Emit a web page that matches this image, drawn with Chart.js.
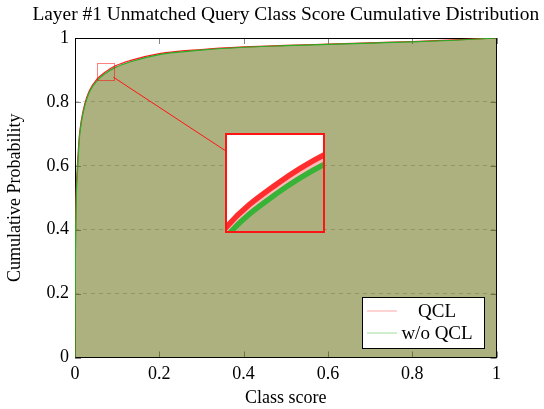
<!DOCTYPE html>
<html><head><meta charset="utf-8">
<script src="https://cdn.jsdelivr.net/npm/chart.js@4.4.1/dist/chart.umd.min.js"></script>
<style>
html,body{margin:0;padding:0;background:#fff;}
#wrap{position:relative;width:544px;height:409px;overflow:hidden;}
#main{position:absolute;left:0;top:0;}
#inset{position:absolute;left:225px;top:133px;}
</style></head>
<body>
<div id="wrap"><canvas id="main" width="544" height="409"></canvas><canvas id="inset" width="100" height="100"></canvas></div>
<script>
// ---- data ----
const classScores = [0, 0.001, 0.0025, 0.005, 0.007, 0.010, 0.015, 0.023, 0.034, 0.052, 0.072, 0.096, 0.13, 0.2, 0.3, 0.4, 0.5, 0.6, 0.7, 0.8, 0.9, 1.0];
const qclCdf   = [0, 0.33, 0.50, 0.585, 0.63, 0.69, 0.742, 0.793, 0.835, 0.871, 0.894, 0.913, 0.929, 0.951, 0.964, 0.972, 0.977, 0.981, 0.985, 0.989, 0.994, 1.0];
const noQclCdf = [0, 0.30, 0.47, 0.56, 0.61, 0.68, 0.735, 0.787, 0.830, 0.866, 0.889, 0.908, 0.925, 0.948, 0.962, 0.971, 0.976, 0.980, 0.984, 0.988, 0.993, 1.0];
const seriesNames = ['QCL', 'w/o QCL'];
const xTickLabels = ['0', '0.2', '0.4', '0.6', '0.8', '1'];
const yTickLabels = ['0', '0.2', '0.4', '0.6', '0.8', '1'];
const chartTitle = 'Layer #1 Unmatched Query Class Score Cumulative Distribution';
const spyX = [0.0515, 0.091];
const spyY = [0.868, 0.921];
const insetCenter = [0.475, 0.545];

// ---- styles ----
const FONT = "'Liberation Serif', 'Times New Roman', serif";
const lineColors = ['rgb(255,25,25)', 'rgb(40,175,40)'];
const insetLineColors = ['rgb(255,45,45)', 'rgb(55,180,55)'];
const fillColors = ['rgba(255,0,0,0.27)', 'rgba(0,156,0,0.32)'];
const legendColors = ['rgba(255,140,140,0.5)', 'rgba(110,205,110,0.45)'];
const INSET_SIZE = 100;

const toPts = ys => classScores.map((x, i) => ({x: x, y: ys[i]}));
function makeDatasets(lw, colors) {
  return [qclCdf, noQclCdf].map((ys, i) => ({
    label: seriesNames[i],
    data: toPts(ys),
    borderColor: colors[i],
    backgroundColor: fillColors[i],
    fill: 'origin',
    borderWidth: lw,
    pointRadius: 0,
    cubicInterpolationMode: 'monotone',
    order: 1 - i
  }));
}

const framePlugin = {
  id: 'frame',
  beforeDatasetsDraw(chart) {
    const {ctx, chartArea: a, scales: {x, y}} = chart;
    ctx.save();
    ctx.strokeStyle = 'rgba(120,120,120,0.9)';
    ctx.lineWidth = 1;
    ctx.beginPath();
    x.ticks.forEach(t => {
      const px = Math.round(x.getPixelForValue(t.value)) + 0.5;
      ctx.moveTo(px, a.top); ctx.lineTo(px, a.top + 6);
      ctx.moveTo(px, a.bottom); ctx.lineTo(px, a.bottom - 6);
    });
    y.ticks.forEach(t => {
      const py = Math.round(y.getPixelForValue(t.value)) + 0.5;
      ctx.moveTo(a.left, py); ctx.lineTo(a.left + 6, py);
      ctx.moveTo(a.right, py); ctx.lineTo(a.right - 6, py);
    });
    ctx.stroke();
    ctx.strokeStyle = '#000';
    const l = Math.round(a.left) + 0.5, r = Math.round(a.right) - 0.5;
    const t = Math.round(a.top) + 0.5, b = Math.round(a.bottom) - 0.5;
    ctx.strokeRect(l, t, r - l, b - t);
    ctx.restore();
  },
  afterDatasetsDraw(chart) {
    const {ctx, scales: {x, y}} = chart;
    const bx0 = x.getPixelForValue(spyX[0]), bx1 = x.getPixelForValue(spyX[1]);
    const by0 = y.getPixelForValue(spyY[1]), by1 = y.getPixelForValue(spyY[0]);
    ctx.save();
    ctx.strokeStyle = 'rgba(255,0,0,0.5)';
    ctx.lineWidth = 1;
    ctx.strokeRect(Math.round(bx0) + 0.5, Math.round(by0) + 0.5, Math.round(bx1 - bx0), Math.round(by1 - by0));
    // connector
    const c1x = (bx0 + bx1) / 2, c1y = (by0 + by1) / 2;
    const c2x = x.getPixelForValue(insetCenter[0]), c2y = y.getPixelForValue(insetCenter[1]);
    const dx = c2x - c1x, dy = c2y - c1y;
    const t1 = Math.min(((bx1 - bx0) / 2) / Math.abs(dx), ((by1 - by0) / 2) / Math.abs(dy));
    const t2 = Math.min((INSET_SIZE / 2) / Math.abs(dx), (INSET_SIZE / 2) / Math.abs(dy));
    ctx.strokeStyle = 'rgb(255,20,20)';
    ctx.beginPath();
    ctx.moveTo(c1x + dx * t1, c1y + dy * t1);
    ctx.lineTo(c2x - dx * t2, c2y - dy * t2);
    ctx.stroke();
    ctx.restore();
  },
  afterDraw(chart) {
    const {ctx, chartArea: a} = chart;
    ctx.save();
    // title, centred over the plot area
    ctx.font = '19.4px ' + FONT;
    ctx.fillStyle = '#000';
    ctx.textAlign = 'center';
    ctx.textBaseline = 'middle';
    ctx.fillText(chartTitle, (a.left + a.right) / 2, 15);
    // legend
    const w = 122, h = 51;
    const bx = Math.round(a.right - 13 - w), by = Math.round(a.bottom - 10 - h);
    ctx.fillStyle = '#fff';
    ctx.fillRect(bx, by, w, h);
    ctx.strokeStyle = '#000';
    ctx.lineWidth = 1;
    ctx.strokeRect(bx + 0.5, by + 0.5, w, h);
    ctx.font = '19px ' + FONT;
    chart.data.datasets.forEach((ds, i) => {
      const ry = by + 14 + i * 22;
      ctx.strokeStyle = legendColors[i];
      ctx.lineWidth = 1.5;
      ctx.beginPath();
      ctx.moveTo(bx + 5, ry); ctx.lineTo(bx + 35, ry);
      ctx.stroke();
      ctx.fillStyle = '#000';
      ctx.fillText(ds.label, bx + 75, ry + 1);
    });
    ctx.restore();
  }
};

const mainChart = new Chart(document.getElementById('main'), {
  type: 'line',
  data: {datasets: makeDatasets(1.2, lineColors)},
  options: {
    responsive: false, animation: false, devicePixelRatio: 1, events: [],
    layout: {padding: {left: 0, right: 47.5, top: 38, bottom: 0}},
    scales: {
      x: {
        type: 'linear', min: 0, max: 1,
        afterFit: s => { s.height = 51.5; },
        grid: {display: false, drawTicks: false},
        border: {display: false},
        ticks: {stepSize: 0.2, padding: 6, color: '#000', font: {family: FONT, size: 18},
                maxRotation: 0, callback: (v, i) => xTickLabels[i] !== undefined ? xTickLabels[i] : v},
        title: {display: true, text: 'Class score', color: '#000', font: {family: FONT, size: 18}, padding: {top: 0, bottom: 0}}
      },
      y: {
        type: 'linear', min: 0, max: 1,
        afterFit: s => { s.width = 75; },
        grid: {color: 'rgba(110,110,110,0.35)', lineWidth: 1, drawTicks: false},
        border: {display: false, dash: [4, 4]},
        ticks: {stepSize: 0.2, padding: 6, color: '#000', font: {family: FONT, size: 18},
                callback: (v, i) => yTickLabels[i] !== undefined ? yTickLabels[i] : v},
        title: {display: true, text: 'Cumulative Probability', color: '#000', font: {family: FONT, size: 18}, padding: {top: 4, bottom: 0}}
      }
    },
    plugins: {
      legend: {display: false},
      tooltip: {enabled: false},
      title: {display: false}
    }
  },
  plugins: [framePlugin]
});

// position the magnified inset from the main chart's scales
const sx = mainChart.scales.x, sy = mainChart.scales.y;
const insetEl = document.getElementById('inset');
insetEl.style.left = Math.round(sx.getPixelForValue(insetCenter[0]) - INSET_SIZE / 2) + 'px';
insetEl.style.top = Math.round(sy.getPixelForValue(insetCenter[1]) - INSET_SIZE / 2) + 'px';

new Chart(insetEl, {
  type: 'line',
  data: {datasets: makeDatasets(5.5, insetLineColors)},
  options: {
    responsive: false, animation: false, devicePixelRatio: 1, events: [],
    layout: {padding: 0},
    scales: {
      x: {type: 'linear', min: spyX[0], max: spyX[1], display: false},
      y: {type: 'linear', min: spyY[0], max: spyY[1], display: false}
    },
    plugins: {legend: {display: false}, tooltip: {enabled: false}, title: {display: false}}
  },
  plugins: [{
    id: 'insetFrame',
    beforeDraw(c) { c.ctx.save(); c.ctx.fillStyle = '#fff'; c.ctx.fillRect(0, 0, c.width, c.height); c.ctx.restore(); },
    afterDraw(c) { const ctx = c.ctx; ctx.save(); ctx.strokeStyle = 'rgb(255,20,20)'; ctx.lineWidth = 2; ctx.strokeRect(1, 1, c.width - 2, c.height - 2); ctx.restore(); }
  }]
});
</script>
</body></html>
